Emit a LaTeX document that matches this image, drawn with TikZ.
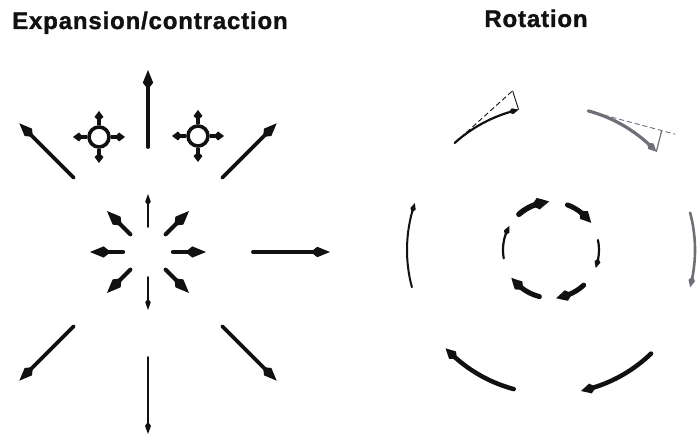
\documentclass[tikz,border=0pt]{standalone}
\usepackage{fontspec}
\usetikzlibrary{arrows.meta,bending,calc}
\newfontfamily\headfont{Liberation Sans}[LetterSpace=3.5,FakeBold=1.4]
\definecolor{ink}{HTML}{111111}
\definecolor{slate}{HTML}{6E7079}
\tikzset{
  heading/.style={font=\headfont\bfseries\fontsize{24}{28}\selectfont, text=ink, inner sep=0pt},
  ray/.style={-{Kite[length=6pt 3.5, width=2pt 2.2, inset=2pt 1.2]}, draw=ink, line cap=round},
  stub/.style={-{Kite[length=10pt, width=9pt, inset=4pt]}, draw=ink, line width=3.6pt},
  spin/.style={-{Kite[length=5pt 2.4, width=2pt 1.8, inset=2pt 0.9, bend]}, line cap=round},
  chord/.style={dashed, dash pattern=on 5pt off 3pt, line width=0.9pt}
}
\begin{document}
\begin{tikzpicture}[x=1pt,y=1pt]
\useasboundingbox (0,0) rectangle (698,438);
\node[heading, anchor=base west] (expTitle) at (12,409) {Expansion/contraction};
\node[heading, anchor=base] (rotTitle) at (536,411) {Rotation};
\coordinate (ec) at (148,186);
\foreach \a/\w in {0/3.8,45/3.8,90/3.8,135/3.8,225/3.8,270/1.8,315/3.8}
  \draw[ray, line width=\w pt] (ec) ++(\a:105) -- ++(\a:77);
\foreach \a/\w in {0/4.2,45/4.2,90/1.6,135/4.2,180/4.2,225/4.2,270/1.6,315/4.2}
  \draw[ray, line width=\w pt] (ec) ++(\a:25) -- ++(\a:33);
\coordinate (bub1) at (99,301);
\coordinate (bub2) at (198,302);
\foreach \b in {bub1,bub2} {
  \draw[ink, line width=3.6pt] (\b) circle[radius=10];
  \foreach \a in {0,90,180,270}
    \draw[stub] (\b) ++(\a:12) -- ++(\a:14);
}
\coordinate (rc) at (551,188);
\foreach \s/\e/\w/\c in {132/103/2.2/ink,75/43/3.2/slate,15/-15/2.6/slate,-46/-78/4.5/ink,-105/-137/4.5/ink,195/161/2/ink}
  \draw[spin, line width=\w pt, color=\c] (rc) ++(\s:144) arc[start angle=\s, end angle=\e, radius=144];
\foreach \s/\e/\w in {132/92/5.5,70/34/5,12/-22/2.2,-47/-84/5,-104/-145/5,190/150/2.2}
  \draw[spin, line width=\w pt, color=ink] (rc) ++(\s:48) arc[start angle=\s, end angle=\e, radius=48];
\coordinate (blkA) at ($(rc)+(132:144)$);
\coordinate (blkB) at ($(rc)+(103:144)$);
\coordinate (blkT) at ($(blkA)+(42:78)$);
\draw[chord, ink] (blkA) -- (blkT);
\draw[ink, line width=0.9pt] (blkT) -- (blkB);
\coordinate (gryA) at ($(rc)+(75:144)$);
\coordinate (gryB) at ($(rc)+(43:144)$);
\coordinate (gryT) at ($(gryA)+(-15:76)$);
\draw[chord, slate] (gryA) -- ++(-15:90);
\draw[slate, line width=1.2pt] (gryT) -- (gryB);
\end{tikzpicture}
\end{document}
